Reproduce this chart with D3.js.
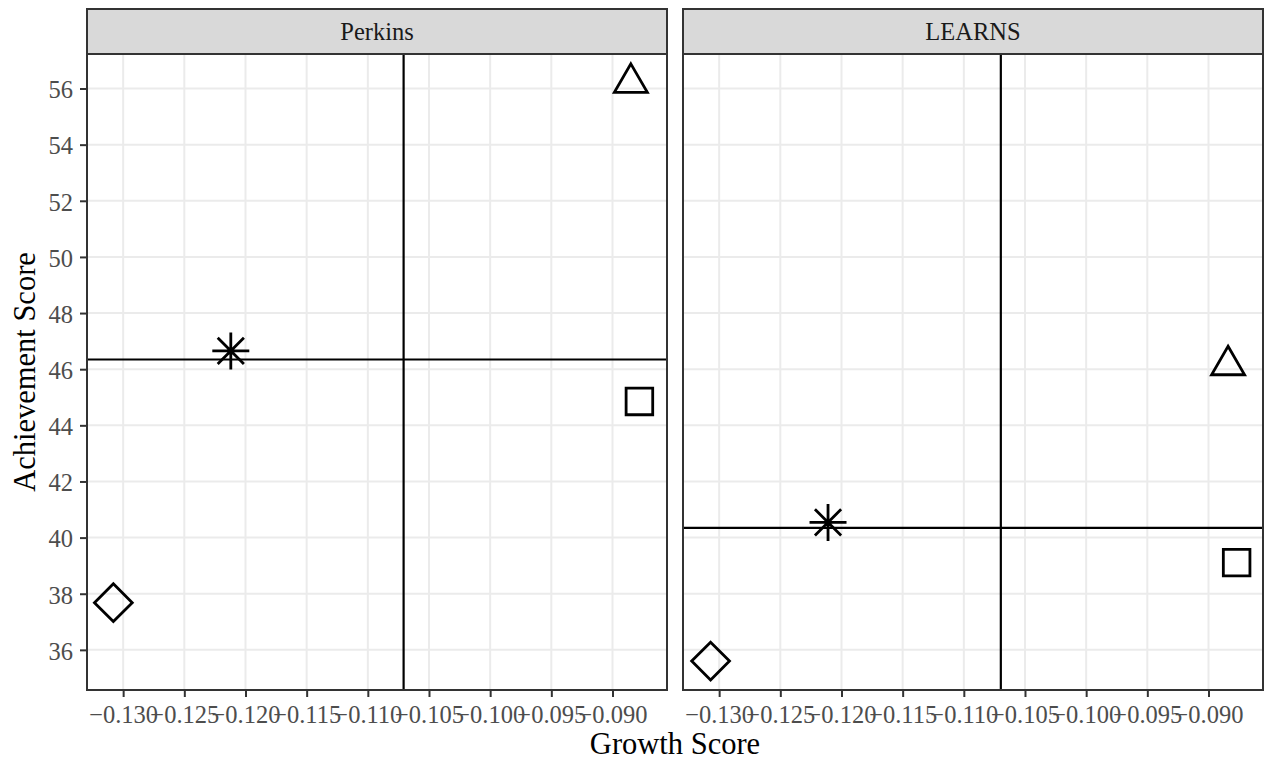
<!DOCTYPE html>
<html>
<head>
<meta charset="utf-8">
<script src="https://cdn.jsdelivr.net/npm/d3@7"></script>
<style>
  body { margin: 0; background: #fff; }
  text { font-family: "Liberation Serif", "DejaVu Serif", serif; }
</style>
</head>
<body>
<div id="chart"></div>
<script>
// facet names, in panel order
var programs = ['Perkins', 'LEARNS'];
// one point per shape in each facet
var shapes = ['diamond', 'star', 'triangle', 'square'];
var perkinsGrowth = [-0.1308, -0.1212, -0.0885, -0.0878];
var perkinsAchievement = [37.68, 46.65, 56.2, 44.85];
var learnsGrowth = [-0.1307, -0.1211, -0.0884, -0.0877];
var learnsAchievement = [35.6, 40.54, 46.14, 39.11];
var xTicks = [-0.130, -0.125, -0.120, -0.115, -0.110, -0.105, -0.100, -0.095, -0.090];
var yTicks = [36, 38, 40, 42, 44, 46, 48, 50, 52, 54, 56];

var W = 1265, H = 762;
var panelW = 580, panelTop = 54, panelBottom = 690, stripTop = 9;
var panelLeft = [87, 683];

var facets = [
    { name: programs[0], growth: perkinsGrowth, ach: perkinsAchievement },
    { name: programs[1], growth: learnsGrowth, ach: learnsAchievement }
];

// shared scales, padded 5% like ggplot
function padded(vals) {
    var e = d3.extent(vals), p = (e[1] - e[0]) * 0.05;
    return [e[0] - p, e[1] + p];
}
var x = d3.scaleLinear()
    .domain(padded(perkinsGrowth.concat(learnsGrowth)))
    .range([0, panelW]);
var y = d3.scaleLinear()
    .domain(padded(perkinsAchievement.concat(learnsAchievement)))
    .range([panelBottom, panelTop]);

var svg = d3.select('#chart').append('svg')
    .attr('width', W).attr('height', H);

function fmt(v) { return d3.format('.3f')(v).replace('-', '\u2212'); }

// marker paths centred on 0,0
function shapePath(s) {
    if (s === 'square') { return 'M-13.3,-13.3H13.3V13.3H-13.3Z'; }
    if (s === 'diamond') { return 'M0,-18.9L18.9,0L0,18.9L-18.9,0Z'; }
    if (s === 'triangle') { return 'M0,-19L16.5,9.5L-16.5,9.5Z'; }
    // asterisk: plus + cross
    var a = 18.5, b = 13.1;
    return 'M0,-' + a + 'V' + a + 'M-' + a + ',0H' + a +
        'M-' + b + ',-' + b + 'L' + b + ',' + b + 'M-' + b + ',' + b + 'L' + b + ',-' + b;
}

facets.forEach(function(f, i) {
    var g = svg.append('g').attr('transform', 'translate(' + panelLeft[i] + ',0)');

    // grid
    g.selectAll('line.vg').data(xTicks).enter().append('line')
        .attr('x1', function(d) { return x(d); }).attr('x2', function(d) { return x(d); })
        .attr('y1', panelTop).attr('y2', panelBottom)
        .style('stroke', '#EBEBEB').style('stroke-width', 2);
    g.selectAll('line.hg').data(yTicks).enter().append('line')
        .attr('x1', 0).attr('x2', panelW)
        .attr('y1', function(d) { return y(d); }).attr('y2', function(d) { return y(d); })
        .style('stroke', '#EBEBEB').style('stroke-width', 2);

    // mean lines
    var mx = d3.mean(f.growth), my = d3.mean(f.ach);
    g.append('line').attr('x1', x(mx)).attr('x2', x(mx))
        .attr('y1', panelTop).attr('y2', panelBottom)
        .style('stroke', '#000').style('stroke-width', 2.2);
    g.append('line').attr('x1', 0).attr('x2', panelW)
        .attr('y1', y(my)).attr('y2', y(my))
        .style('stroke', '#000').style('stroke-width', 2.2);

    // points
    g.selectAll('path.pt').data(shapes).enter().append('path')
        .attr('d', function(s) { return shapePath(s); })
        .attr('transform', function(s, j) {
            return 'translate(' + x(f.growth[j]) + ',' + y(f.ach[j]) + ')';
        })
        .style('fill', 'none').style('stroke', '#000')
        .style('stroke-width', 2.8).style('stroke-linejoin', 'miter');

    // border + strip
    g.append('rect').attr('x', 0).attr('y', panelTop)
        .attr('width', panelW).attr('height', panelBottom - panelTop)
        .style('fill', 'none').style('stroke', '#333333').style('stroke-width', 2);
    g.append('rect').attr('x', 0).attr('y', stripTop)
        .attr('width', panelW).attr('height', panelTop - stripTop)
        .style('fill', '#D9D9D9').style('stroke', '#333333').style('stroke-width', 2);
    g.append('text').attr('x', panelW / 2).attr('y', 40)
        .attr('text-anchor', 'middle').style('font-size', '24.5px')
        .style('fill', '#1A1A1A').text(f.name);

    // x axis
    var xa = g.append('g').attr('transform', 'translate(0,' + panelBottom + ')')
        .call(d3.axisBottom(x).tickValues(xTicks).tickFormat(fmt).tickSize(7).tickPadding(6));
    xa.select('.domain').remove();
    xa.selectAll('.tick line').style('stroke', '#333333').style('stroke-width', 2);
    xa.selectAll('.tick text').attr('dy', null).attr('y', 32.7)
        .style('font-size', '24.5px').style('fill', '#4D4D4D')
        .style('font-family', '"Liberation Serif", serif');
});

// y axis on left panel only
var ya = svg.append('g').attr('transform', 'translate(' + panelLeft[0] + ',0)')
    .call(d3.axisLeft(y).tickValues(yTicks).tickSize(7).tickPadding(7));
ya.select('.domain').remove();
ya.selectAll('.tick line').style('stroke', '#333333').style('stroke-width', 2);
ya.selectAll('.tick text').attr('dy', '0.38em')
    .style('font-size', '24.5px').style('fill', '#4D4D4D')
    .style('font-family', '"Liberation Serif", serif');

// axis titles
svg.append('text').attr('x', (panelLeft[0] + panelLeft[1] + panelW) / 2).attr('y', 754)
    .attr('text-anchor', 'middle').style('font-size', '30.5px').style('fill', '#000')
    .text('Growth Score');
svg.append('text')
    .attr('transform', 'translate(35,' + (panelTop + panelBottom) / 2 + ') rotate(-90)')
    .attr('text-anchor', 'middle').style('font-size', '30.5px').style('fill', '#000')
    .text('Achievement Score');
</script>
</body>
</html>
